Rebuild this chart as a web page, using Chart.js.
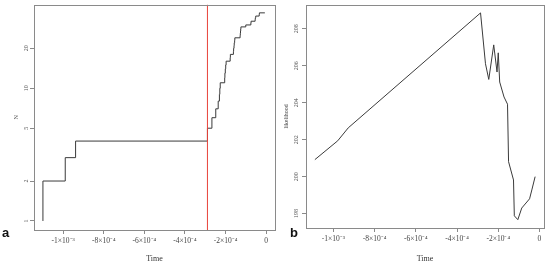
<!DOCTYPE html>
<html>
<head>
<meta charset="utf-8">
<script src="https://cdn.jsdelivr.net/npm/chart.js@4.4.1/dist/chart.umd.min.js"></script>
<style>
body { margin: 0; background: #fff; }
#wrap { position: relative; width: 550px; height: 266px; overflow: hidden; }
canvas { position: absolute; top: 0; }
.tag { position: absolute; font: bold 13px "Liberation Sans", Arial, sans-serif; color: #111; }
</style>
</head>
<body>
<div id="wrap">
<canvas id="ca" width="278" height="266" style="left:0"></canvas>
<canvas id="cb" width="272" height="266" style="left:278px"></canvas>
<div class="tag" style="left:2px;top:225px">a</div>
<div class="tag" style="left:290px;top:225px">b</div>
</div>
<script>
// panel a: lineage count N over time (step function, log axis)
var nTimes = [-1.100e-3, -1.100e-3, -0.990e-3, -0.939e-3, -0.289e-3, -0.267e-3, -0.248e-3, -0.236e-3,
	-0.230e-3, -0.228e-3, -0.226e-3, -0.204e-3, -0.203e-3, -0.201e-3, -0.199e-3, -0.197e-3,
	-0.177e-3, -0.176e-3, -0.161e-3, -0.160e-3, -0.158e-3, -0.157e-3, -0.155e-3, -0.154e-3,
	-0.128e-3, -0.127e-3, -0.126e-3, -0.125e-3, -0.124e-3, -0.100e-3, -0.075e-3, -0.074e-3,
	-0.054e-3, -0.053e-3, -0.051e-3, -0.034e-3, -0.033e-3, -0.006e-3];
var nValues = [1, 2, 3, 4, 5, 6, 7, 8, 9, 10, 11, 12, 13, 14, 15, 16, 17, 18, 19, 20, 21, 22, 23, 24,
	25, 26, 27, 28, 29, 30, 31, 32, 33, 34, 35, 36, 37, 37];
var nTicks = [1, 2, 5, 10, 20];
var nRange = [0.855, 42.7];
var markerTime = -0.289e-3;

// panel b: likelihood over time
var likTimes = [-1.090e-3, -0.979e-3, -0.928e-3, -0.286e-3, -0.262e-3, -0.246e-3, -0.222e-3,
	-0.206e-3, -0.200e-3, -0.193e-3, -0.172e-3, -0.155e-3, -0.150e-3, -0.126e-3, -0.122e-3,
	-0.105e-3, -0.086e-3, -0.048e-3, -0.037e-3, -0.021e-3];
var likValues = [200.92, 201.94, 202.64, 208.86, 206.11, 205.26, 207.13, 205.66, 206.70, 205.12,
	204.31, 203.92, 200.81, 199.82, 197.88, 197.67, 198.30, 198.80, 199.28, 200.00];
var likTicks = [198, 200, 202, 204, 206, 208];
var likRange = [197.22, 209.31];

var timeTicks = [-1e-3, -8e-4, -6e-4, -4e-4, -2e-4, 0];
var timeTickLabels = ['-1\u00d710\u207b\u00b3', '-8\u00d710\u207b\u2074', '-6\u00d710\u207b\u2074',
	'-4\u00d710\u207b\u2074', '-2\u00d710\u207b\u2074', '0'];

function toPoints(xs, ys) {
	var pts = [];
	for (var i = 0; i < xs.length; i++) {
		pts.push({x: xs[i], y: ys[i]});
	}
	return pts;
}

var boxPlugin = {
	id: 'box',
	afterDraw: function(chart) {
		var a = chart.chartArea, ctx = chart.ctx;
		ctx.save();
		ctx.strokeStyle = '#8a8a8a';
		ctx.lineWidth = 1;
		ctx.strokeRect(Math.round(a.left) + 0.5, Math.round(a.top) + 0.5,
			Math.round(a.right - a.left), Math.round(a.bottom - a.top));
		ctx.restore();
	}
};

var tickFont = {family: 'Liberation Serif', size: 7.5};
var gridStyle = {drawOnChartArea: false, drawTicks: true, tickLength: 4, color: '#8a8a8a'};

function timeAxis(min, max, height) {
	return {
		type: 'linear',
		min: min,
		max: max,
		border: {display: false},
		grid: gridStyle,
		afterBuildTicks: function(scale) {
			scale.ticks = timeTicks.map(function(v) { return {value: v}; });
		},
		afterFit: function(scale) { scale.height = height; },
		ticks: {
			font: tickFont,
			color: '#444',
			padding: 3,
			maxRotation: 0,
			autoSkip: false,
			callback: function(v, i) { return timeTickLabels[i]; }
		},
		title: {
			display: true,
			text: 'Time',
			font: {family: 'Liberation Serif', size: 8},
			color: '#333',
			padding: {top: 0, bottom: 2}
		}
	};
}

function valueAxis(type, range, ticks, width, title, titlePad) {
	return {
		type: type,
		min: range[0],
		max: range[1],
		border: {display: false},
		grid: gridStyle,
		afterBuildTicks: function(scale) {
			scale.ticks = ticks.map(function(v) { return {value: v}; });
		},
		afterFit: function(scale) { scale.width = width; },
		ticks: {
			font: {family: 'Liberation Serif', size: 6},
			color: '#555',
			padding: 1,
			minRotation: 90,
			maxRotation: 90,
			crossAlign: 'center',
			autoSkip: false,
			callback: function(v) { return String(v); }
		},
		title: {
			display: true,
			text: title,
			font: {family: 'Liberation Serif', size: 6},
			color: '#444',
			padding: {top: titlePad, bottom: 0}
		}
	};
}

new Chart(document.getElementById('ca'), {
	type: 'line',
	data: {
		datasets: [{
			data: toPoints([markerTime, markerTime], nRange),
			borderColor: '#e8423a',
			borderWidth: 1,
			pointRadius: 0,
			fill: false
		}, {
			data: toPoints(nTimes, nValues),
			stepped: 'before',
			borderColor: '#3a3a3a',
			borderWidth: 1,
			pointRadius: 0,
			fill: false
		}]
	},
	options: {
		responsive: false,
		animation: false,
		layout: {padding: {top: 4, right: 3, bottom: 0, left: 0}},
		plugins: {legend: {display: false}, tooltip: {enabled: false}},
		scales: {
			x: timeAxis(-1.144e-3, 0.044e-3, 36),
			y: valueAxis('logarithmic', nRange, nTicks, 34, 'N', 13)
		}
	},
	plugins: [boxPlugin]
});

new Chart(document.getElementById('cb'), {
	type: 'line',
	data: {
		datasets: [{
			data: toPoints(likTimes, likValues),
			borderColor: '#3a3a3a',
			borderWidth: 1,
			pointRadius: 0,
			lineTension: 0,
			fill: false
		}]
	},
	options: {
		responsive: false,
		animation: false,
		layout: {padding: {top: 4, right: 6, bottom: 0, left: 0}},
		plugins: {legend: {display: false}, tooltip: {enabled: false}},
		scales: {
			x: timeAxis(-1.133e-3, 0.022e-3, 38),
			y: valueAxis('linear', likRange, likTicks, 28, 'likelihood', 5)
		}
	},
	plugins: [boxPlugin]
});
</script>
</body>
</html>
